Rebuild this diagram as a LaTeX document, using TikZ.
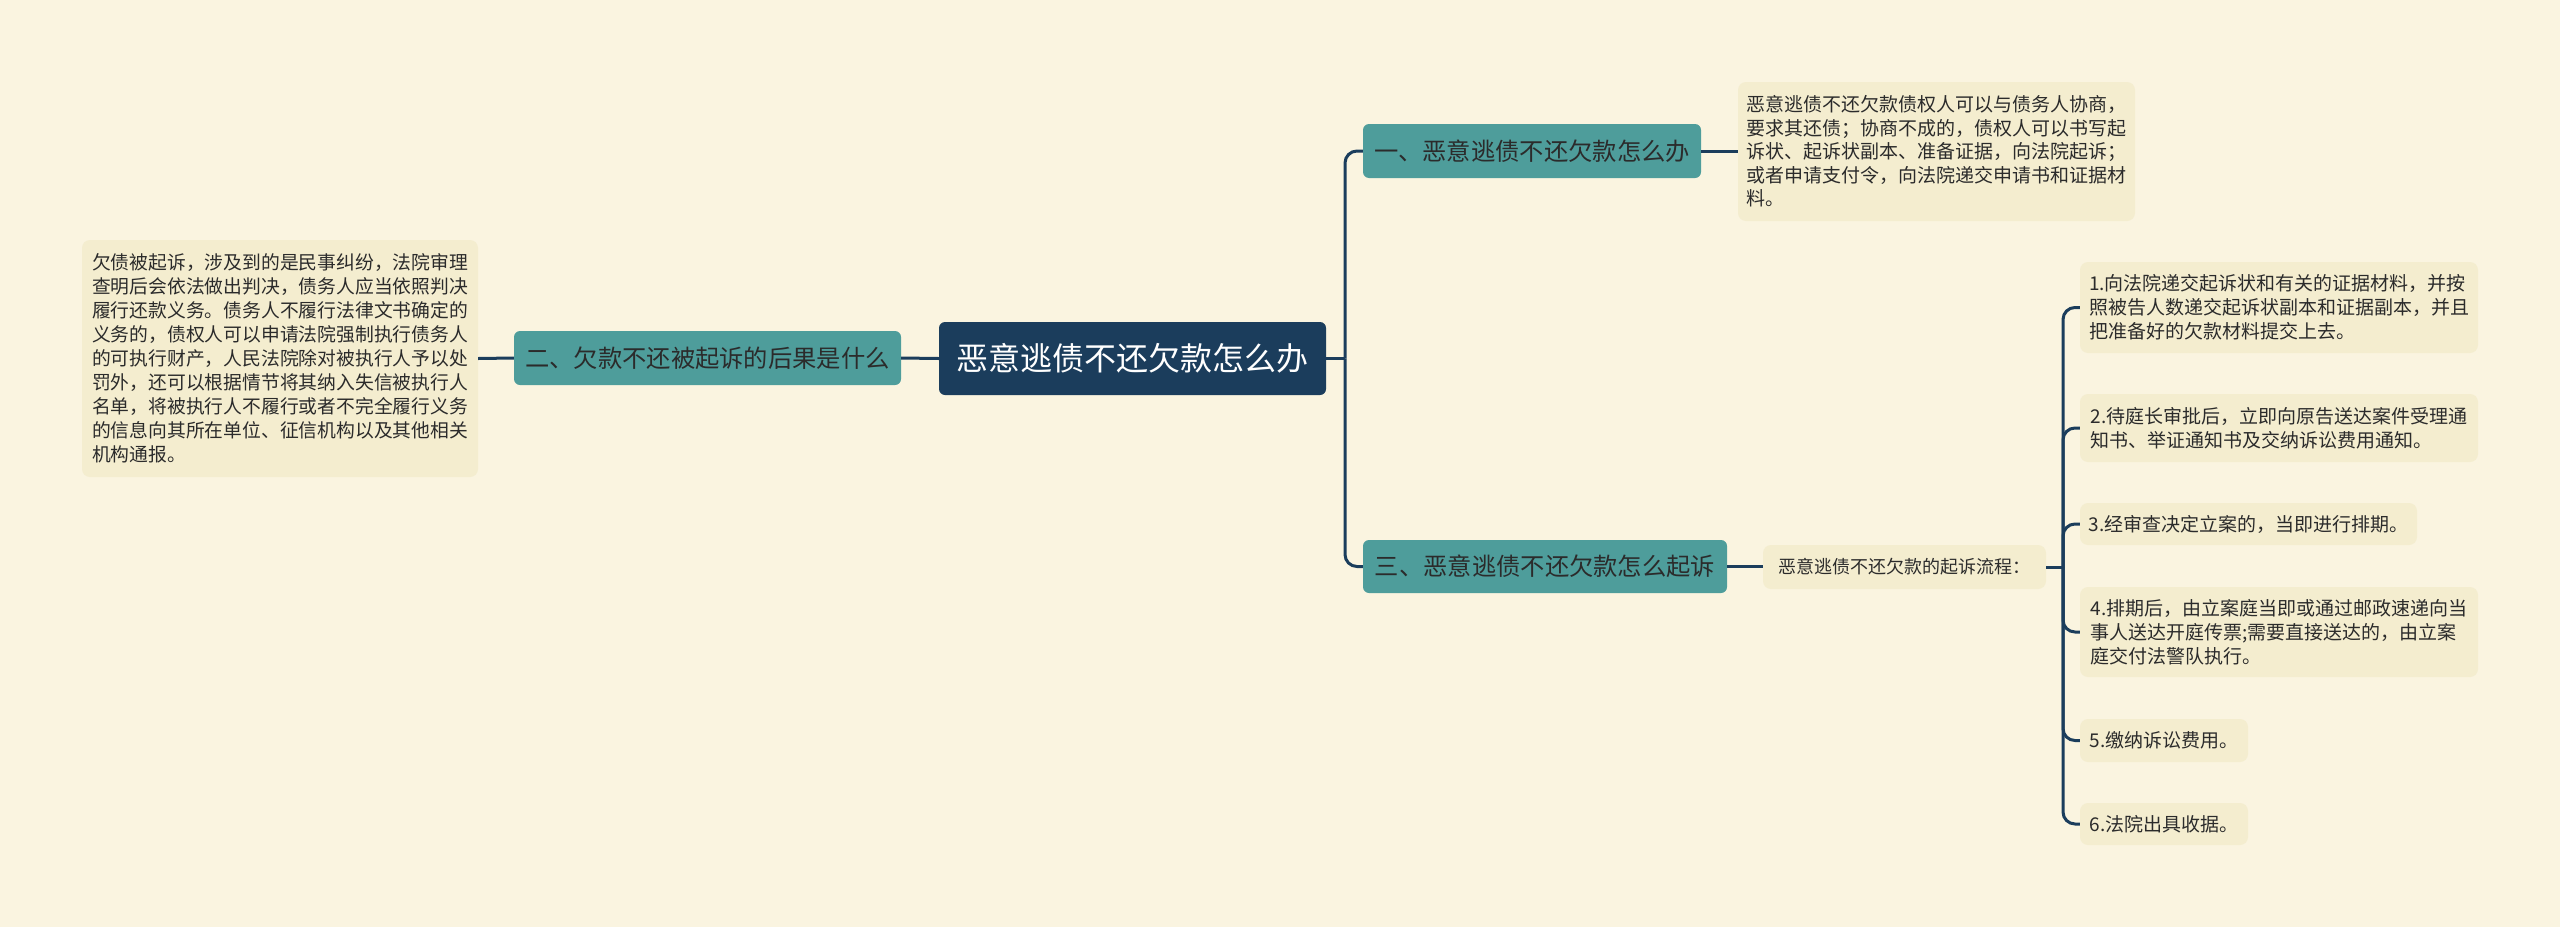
\documentclass[tikz,border=0pt]{standalone}
\usepackage{fontspec}
\newfontfamily\cjk{Noto Sans CJK SC}
\definecolor{bgc}{HTML}{FAF4E0}
\definecolor{boxc}{HTML}{F4EDCF}
\definecolor{tealc}{HTML}{4E9D9B}
\definecolor{navyc}{HTML}{1B3D5C}
\definecolor{txtc}{HTML}{2B2B2B}
\begin{document}
\begin{tikzpicture}[x=1pt,y=-1pt,
  centerbox/.style={draw=none,fill=navyc,rounded corners=6pt,text=white,font=\cjk\fontsize{32}{36}\selectfont,inner sep=0pt},
  branchbox/.style={draw=none,fill=tealc,rounded corners=6pt,text=txtc,font=\cjk\fontsize{24.3}{28}\selectfont,inner sep=0pt},
  textbox/.style={draw=none,fill=boxc,rounded corners=8pt,text=txtc,font=\cjk\fontsize{19}{24}\selectfont,align=left,inner sep=0pt},
  conn/.style={draw=navyc,line width=3pt,rounded corners=12pt}]
\fill[bgc] (0,0) rectangle (2560,927);
\useasboundingbox (0,0) rectangle (2560,927);

% nodes
\node[centerbox,minimum width=387pt,minimum height=73pt] (c) at (1132.5,358.5) {恶意逃债不还欠款怎么办};
\node[branchbox,minimum width=387pt,minimum height=54pt] (b2) at (707.5,358) {二、欠款不还被起诉的后果是什么};
\node[branchbox,minimum width=338pt,minimum height=54pt] (b1) at (1532,151) {一、恶意逃债不还欠款怎么办};
\node[branchbox,minimum width=364pt,minimum height=53pt] (b3) at (1545,566.5) {三、恶意逃债不还欠款怎么起诉};

\node[textbox,font=\cjk\fontsize{18.8}{24}\selectfont,minimum width=396pt,minimum height=237pt] (t2) at (280,358.5) {欠债被起诉，涉及到的是民事纠纷，法院审理\\查明后会依法做出判决，债务人应当依照判决\\履行还款义务。债务人不履行法律文书确定的\\义务的，债权人可以申请法院强制执行债务人\\的可执行财产，人民法院除对被执行人予以处\\罚外，还可以根据情节将其纳入失信被执行人\\名单，将被执行人不履行或者不完全履行义务\\的信息向其所在单位、征信机构以及其他相关\\机构通报。};

\node[textbox,font=\cjk\fontsize{19}{23.5}\selectfont,minimum width=397pt,minimum height=139pt] (t1) at (1936.5,151.5) {恶意逃债不还欠款债权人可以与债务人协商，\\要求其还债；协商不成的，债权人可以书写起\\诉状、起诉状副本、准备证据，向法院起诉；\\或者申请支付令，向法院递交申请书和证据材\\料。};

\node[textbox,font=\cjk\fontsize{18}{22}\selectfont,minimum width=283pt,minimum height=44pt] (s) at (1904.5,567) {恶意逃债不还欠款的起诉流程：};

\node[textbox,minimum width=398pt,minimum height=91pt] (i1) at (2279,307.5) {1.向法院递交起诉状和有关的证据材料，并按\\照被告人数递交起诉状副本和证据副本，并且\\把准备好的欠款材料提交上去。};
\node[textbox,minimum width=398pt,minimum height=68pt] (i2) at (2279,428) {2.待庭长审批后，立即向原告送达案件受理通\\知书、举证通知书及交纳诉讼费用通知。};
\node[textbox,minimum width=337pt,minimum height=42pt] (i3) at (2248.5,524) {3.经审查决定立案的，当即进行排期。};
\node[textbox,minimum width=398pt,minimum height=90pt] (i4) at (2279,632) {4.排期后，由立案庭当即或通过邮政速递向当\\事人送达开庭传票;需要直接送达的，由立案\\庭交付法警队执行。};
\node[textbox,minimum width=168pt,minimum height=43pt] (i5) at (2164,740.5) {5.缴纳诉讼费用。};
\node[textbox,minimum width=168pt,minimum height=42pt] (i6) at (2164,824) {6.法院出具收据。};

% junction coordinates
\coordinate (lt) at (1345,358.5);
\coordinate (rt) at (2063,567);

% connectors
\draw[conn] (c.west) -- (b2.west -| b2.east);
\draw[conn] (b2.west) -- (t2.east);
\draw[conn] (c.east) -- (lt);
\draw[conn] (lt) |- (b1.west);
\draw[conn] (lt) |- (b3.west);
\draw[conn] (b1.east) -- (b1.east -| t1.west);
\draw[conn] (b3.east) -- (b3.east -| s.west);
\draw[conn] (s.east) -- (rt);
\draw[conn] (rt) |- (i1.west);
\draw[conn] (rt) |- (i2.west);
\draw[conn] (rt) |- (i3.west);
\draw[conn] (rt) |- (i4.west);
\draw[conn] (rt) |- (i5.west);
\draw[conn] (rt) |- (i6.west);
\end{tikzpicture}
\end{document}
